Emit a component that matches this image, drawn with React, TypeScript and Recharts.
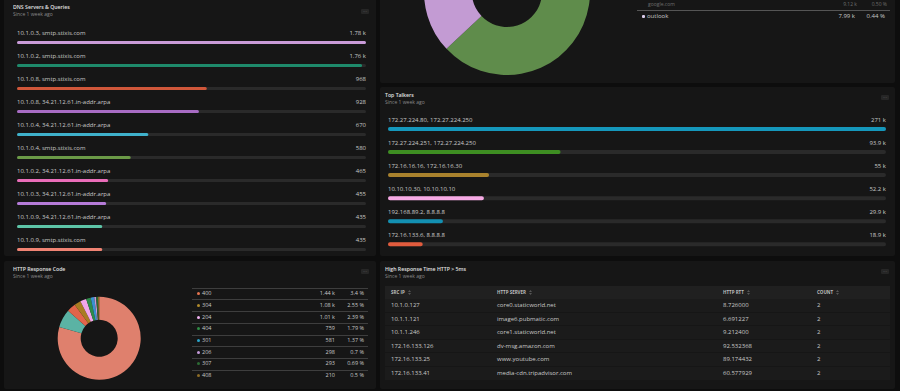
import React from 'react';
import { BarChart, Bar, XAxis, YAxis, Cell, LabelList, PieChart, Pie } from 'recharts';

const FONT = '"Open Sans", "Noto Sans", sans-serif';

// ---- DNS Servers & Queries ----
const dnsLabels = [
  '10.1.0.3, smtp.stixis.com',
  '10.1.0.2, smtp.stixis.com',
  '10.1.0.8, smtp.stixis.com',
  '10.1.0.8, 34.21.12.61.in-addr.arpa',
  '10.1.0.4, 34.21.12.61.in-addr.arpa',
  '10.1.0.4, smtp.stixis.com',
  '10.1.0.2, 34.21.12.61.in-addr.arpa',
  '10.1.0.3, 34.21.12.61.in-addr.arpa',
  '10.1.0.9, 34.21.12.61.in-addr.arpa',
  '10.1.0.9, smtp.stixis.com',
];
const dnsValues = [1780, 1760, 968, 928, 670, 580, 465, 455, 435, 435];
const dnsValueText = ['1.78 k', '1.76 k', '968', '928', '670', '580', '465', '455', '435', '435'];
const dnsColors = ['#c99bd8', '#1e8a6b', '#d0573a', '#a86cc4', '#3fb1cb', '#6b9a47', '#ea6db9', '#b57bd8', '#5dc4a7', '#f08373'];

// ---- Top Talkers ----
const talkerLabels = [
  '172.27.224.80, 172.27.224.250',
  '172.27.224.251, 172.27.224.250',
  '172.16.16.16, 172.16.16.30',
  '10.10.10.30, 10.10.10.10',
  '192.168.89.2, 8.8.8.8',
  '172.16.133.6, 8.8.8.8',
];
const talkerValues = [271000, 93900, 55000, 52200, 29900, 18900];
const talkerValueText = ['271 k', '93.9 k', '55 k', '52.2 k', '29.9 k', '18.9 k'];
const talkerColors = ['#1597bb', '#3e8e22', '#a9822d', '#f7aae5', '#1390b2', '#e15b3d'];

// ---- Top-right (scrolled) app donut ----
const appShares = [63.0, 14.7, 12.0, 6.0, 4.3];
const appColors = ['#5f8c4b', '#c39bd3', '#3a8fc8', '#e0805f', '#5bb3a4'];
const appLegendNames = ['google.com', 'outlook'];
const appLegendCounts = ['9.12 k', '7.99 k'];
const appLegendPercents = ['0.50 %', '0.44 %'];

// ---- HTTP Response Code ----
const codeNames = ['200', '302', '400', '304', '204', '404', '301', '206', '307', '408'];
const codeCounts = [33400, 3010, 1440, 1080, 1010, 759, 581, 298, 293, 210];
const codeColors = ['#df806d', '#5bb3a4', '#e2654a', '#a97c22', '#f3a6ea', '#2e8b4a', '#3a92cf', '#c49ad9', '#2c6b34', '#8c6b25'];
const legendCodes = ['400', '304', '204', '404', '301', '206', '307', '408'];
const legendCounts = ['1.44 k', '1.08 k', '1.01 k', '759', '581', '298', '293', '210'];
const legendPercents = ['3.4 %', '2.55 %', '2.39 %', '1.79 %', '1.37 %', '0.7 %', '0.69 %', '0.5 %'];
const legendDotColors = ['#e4744f', '#b08a2a', '#f0b0f0', '#2f8c45', '#2aa3c9', '#c49ad9', '#2c6b34', '#8c6b25'];

// ---- High Response Time table ----
const tableColumns = ['SRC IP', 'HTTP SERVER', 'HTTP RTT', 'COUNT'];
const srcIps = ['10.1.0.127', '10.1.1.121', '10.1.1.246', '172.16.133.126', '172.16.133.25', '172.16.133.41'];
const httpServers = ['core0.staticworld.net', 'image6.pubmatic.com', 'core1.staticworld.net', 'dv-msg.amazon.com', 'www.youtube.com', 'media-cdn.tripadvisor.com'];
const httpRtts = ['8.726000', '6.691227', '9.212400', '92.532368', '89.174432', '60.577929'];
const httpCounts = ['2', '2', '2', '2', '2', '2'];

const PAGE_BG = '#0d0d0d';
const PANEL_BG = '#161616';
const TRACK = '#2a2a2a';
const TEXT = '#c9c9c9';
const TOP_PAD = 8;

const Panel: React.FC<{ left: number; top: number; width: number; height: number; children?: React.ReactNode }> = ({ left, top, width, height, children }) => (
  <div style={{ position: 'absolute', left, top, width, height, background: PANEL_BG, borderRadius: 2 }}>{children}</div>
);

const Title: React.FC<{ left: number; top: number; title: string }> = ({ left, top, title }) => (
  <>
    <div style={{ position: 'absolute', left, top: top - 4, fontSize: 5.2, fontWeight: 600, color: '#e2e2e2', lineHeight: '8px', whiteSpace: 'nowrap' }}>{title}</div>
    <div style={{ position: 'absolute', left, top: top + 4, fontSize: 5, color: '#8a8a8a', lineHeight: '7px', whiteSpace: 'nowrap' }}>Since 1 week ago</div>
  </>
);

const Dots: React.FC<{ left: number; top: number }> = ({ left, top }) => (
  <div style={{ position: 'absolute', left, top, width: 8, height: 5, background: '#262626', borderRadius: 1, color: '#6a6a6a', fontSize: 5, lineHeight: '4px', textAlign: 'center' }}>···</div>
);

function makeLabelRenderer(names: string[], values: string[], trackW: number, offset: number, fs: number) {
  return (props: any) => {
    const { x, y, height, index } = props;
    const cy = Number(y) + Number(height) / 2 - offset;
    return (
      <g>
        <text x={Number(x)} y={cy} dominantBaseline="central" fontSize={fs} fill={TEXT} fontFamily={FONT}>{names[index]}</text>
        <text x={Number(x) + trackW} y={cy} dominantBaseline="central" textAnchor="end" fontSize={fs} fill={TEXT} fontFamily={FONT}>{values[index]}</text>
      </g>
    );
  };
}

const HBarList: React.FC<{ names: string[]; values: number[]; texts: string[]; colors: string[]; width: number; rowH: number; barSize: number; offset: number }> = ({ names, values, texts, colors, width, rowH, barSize, offset }) => {
  const data = names.map((n, i) => ({ name: n, value: values[i] }));
  const max = Math.max(...values);
  return (
    <BarChart width={width + 2} height={rowH * names.length + TOP_PAD} layout="vertical" data={data} margin={{ top: TOP_PAD, right: 2, bottom: 0, left: 0 }} barCategoryGap={0}>
      <XAxis type="number" domain={[0, max]} hide />
      <YAxis type="category" dataKey="name" hide />
      <Bar dataKey="value" barSize={barSize} background={{ fill: TRACK, radius: barSize / 2 } as any} radius={barSize / 2} isAnimationActive={false}>
        {data.map((_, i) => <Cell key={i} fill={colors[i]} />)}
        <LabelList dataKey="value" content={makeLabelRenderer(names, texts, width, offset, 6) as any} />
      </Bar>
    </BarChart>
  );
};

const SortIcon = () => (
  <svg width={3} height={5} style={{ marginLeft: 3, verticalAlign: 'middle' }}>
    <polygon points="0,2 1.5,0 3,2" fill="#555" />
    <polygon points="0,3 1.5,5 3,3" fill="#555" />
  </svg>
);

export default function App() {
  const appData = appShares.map((v, i) => ({ name: 'app' + i, value: v }));
  const codeData = codeNames.map((n, i) => ({ name: n, value: codeCounts[i] }));
  const colX = [391, 497, 723, 817];
  const rowVals = [srcIps, httpServers, httpRtts, httpCounts];
  return (
    <div style={{ position: 'absolute', left: 0, top: 0, width: 900, height: 391, background: PAGE_BG, overflow: 'hidden', fontFamily: FONT }}>
      {/* DNS panel */}
      <Panel left={4} top={-2} width={372} height={258} />
      <Title left={13} top={7} title="DNS Servers & Queries" />
      <Dots left={361} top={9} />
      <div style={{ position: 'absolute', left: 17, top: 30.8 - TOP_PAD }}>
        <HBarList names={dnsLabels} values={dnsValues} texts={dnsValueText} colors={dnsColors} width={349} rowH={23} barSize={3} offset={9.3} />
      </div>

      {/* Top-right donut panel (scrolled) */}
      <Panel left={380} top={-10} width={515} height={93} />
      <div style={{ position: 'absolute', left: 380, top: 0, width: 250, height: 83, overflow: 'hidden' }}>
        <div style={{ position: 'absolute', left: 0, top: -100 }}>
          <PieChart width={250} height={183}>
            <Pie data={appData} dataKey="value" cx={122} cy={87} innerRadius={35} outerRadius={83} startAngle={90} endAngle={-270} stroke="none" isAnimationActive={false}>
              {appData.map((_, i) => <Cell key={i} fill={appColors[i]} />)}
            </Pie>
          </PieChart>
        </div>
      </div>
      <div style={{ position: 'absolute', left: 648, top: 1, fontSize: 5, color: '#6e6e6e', lineHeight: '7px' }}>{appLegendNames[0]}</div>
      <div style={{ position: 'absolute', left: 820, width: 37, top: 1, fontSize: 5, color: '#6e6e6e', lineHeight: '7px', textAlign: 'right' }}>{appLegendCounts[0]}</div>
      <div style={{ position: 'absolute', left: 850, width: 37, top: 1, fontSize: 5, color: '#6e6e6e', lineHeight: '7px', textAlign: 'right' }}>{appLegendPercents[0]}</div>
      <div style={{ position: 'absolute', left: 637, top: 10, width: 253, height: 1, background: '#555' }} />
      <div style={{ position: 'absolute', left: 642, top: 14.5, width: 3, height: 3, borderRadius: 1, background: '#d9cbe9' }} />
      <div style={{ position: 'absolute', left: 647, top: 12.5, fontSize: 6, color: TEXT, lineHeight: '7px' }}>{appLegendNames[1]}</div>
      <div style={{ position: 'absolute', left: 815, width: 40, top: 12.5, fontSize: 6, color: TEXT, lineHeight: '7px', textAlign: 'right' }}>{appLegendCounts[1]}</div>
      <div style={{ position: 'absolute', left: 845, width: 40, top: 12.5, fontSize: 6, color: TEXT, lineHeight: '7px', textAlign: 'right' }}>{appLegendPercents[1]}</div>

      {/* Top Talkers */}
      <Panel left={380} top={87} width={515} height={169} />
      <Title left={385} top={95} title="Top Talkers" />
      <Dots left={881} top={95} />
      <div style={{ position: 'absolute', left: 388, top: 117.2 - TOP_PAD }}>
        <HBarList names={talkerLabels} values={talkerValues} texts={talkerValueText} colors={talkerColors} width={498} rowH={23.06} barSize={4} offset={9.4} />
      </div>

      {/* HTTP Response Code */}
      <Panel left={4} top={261} width={372} height={128} />
      <Title left={13} top={269} title="HTTP Response Code" />
      <Dots left={361} top={269} />
      <div style={{ position: 'absolute', left: 44, top: 283 }}>
        <PieChart width={100} height={100}>
          <Pie data={codeData} dataKey="value" cx={50.2} cy={50.3} innerRadius={18.5} outerRadius={41.5} startAngle={90} endAngle={-270} stroke="none" isAnimationActive={false}>
            {codeData.map((_, i) => <Cell key={i} fill={codeColors[i]} />)}
          </Pie>
        </PieChart>
      </div>
      {legendCodes.map((c, i) => {
        const cy = 293.7 + 11.7 * i;
        return (
          <React.Fragment key={c}>
            <div style={{ position: 'absolute', left: 192, top: cy - 6, width: 176, height: 1, background: '#3e3e3e' }} />
            <div style={{ position: 'absolute', left: 197, top: cy - 1.5, width: 3, height: 3, borderRadius: 1.5, background: legendDotColors[i] }} />
            <div style={{ position: 'absolute', left: 202, top: cy - 3.5, fontSize: 5.5, color: TEXT, lineHeight: '7px' }}>{c}</div>
            <div style={{ position: 'absolute', left: 295, width: 40, top: cy - 3.5, fontSize: 5.5, color: TEXT, lineHeight: '7px', textAlign: 'right' }}>{legendCounts[i]}</div>
            <div style={{ position: 'absolute', left: 324, width: 40, top: cy - 3.5, fontSize: 5.5, color: TEXT, lineHeight: '7px', textAlign: 'right' }}>{legendPercents[i]}</div>
          </React.Fragment>
        );
      })}

      {/* High Response Time table */}
      <Panel left={380} top={261} width={515} height={128} />
      <Title left={385} top={269} title="High Response Time HTTP > 5ms" />
      <Dots left={881} top={269} />
      <div style={{ position: 'absolute', left: 385, top: 285.7, width: 505, height: 13, background: '#202020' }} />
      {tableColumns.map((c, j) => (
        <div key={c} style={{ position: 'absolute', left: colX[j], top: 289, fontSize: 4.5, fontWeight: 700, color: '#bdbdbd', lineHeight: '6px', whiteSpace: 'nowrap' }}>
          {c}<SortIcon />
        </div>
      ))}
      {srcIps.map((_, i) => {
        const top = 299 + 13.6 * i;
        return (
          <React.Fragment key={i}>
            <div style={{ position: 'absolute', left: 385, top, width: 505, height: 12.6, background: '#1b1b1b' }} />
            {rowVals.map((col, j) => (
              <div key={j} style={{ position: 'absolute', left: colX[j], top: top + 3, fontSize: 6, color: TEXT, lineHeight: '7px', whiteSpace: 'nowrap' }}>{col[i]}</div>
            ))}
          </React.Fragment>
        );
      })}
    </div>
  );
}
